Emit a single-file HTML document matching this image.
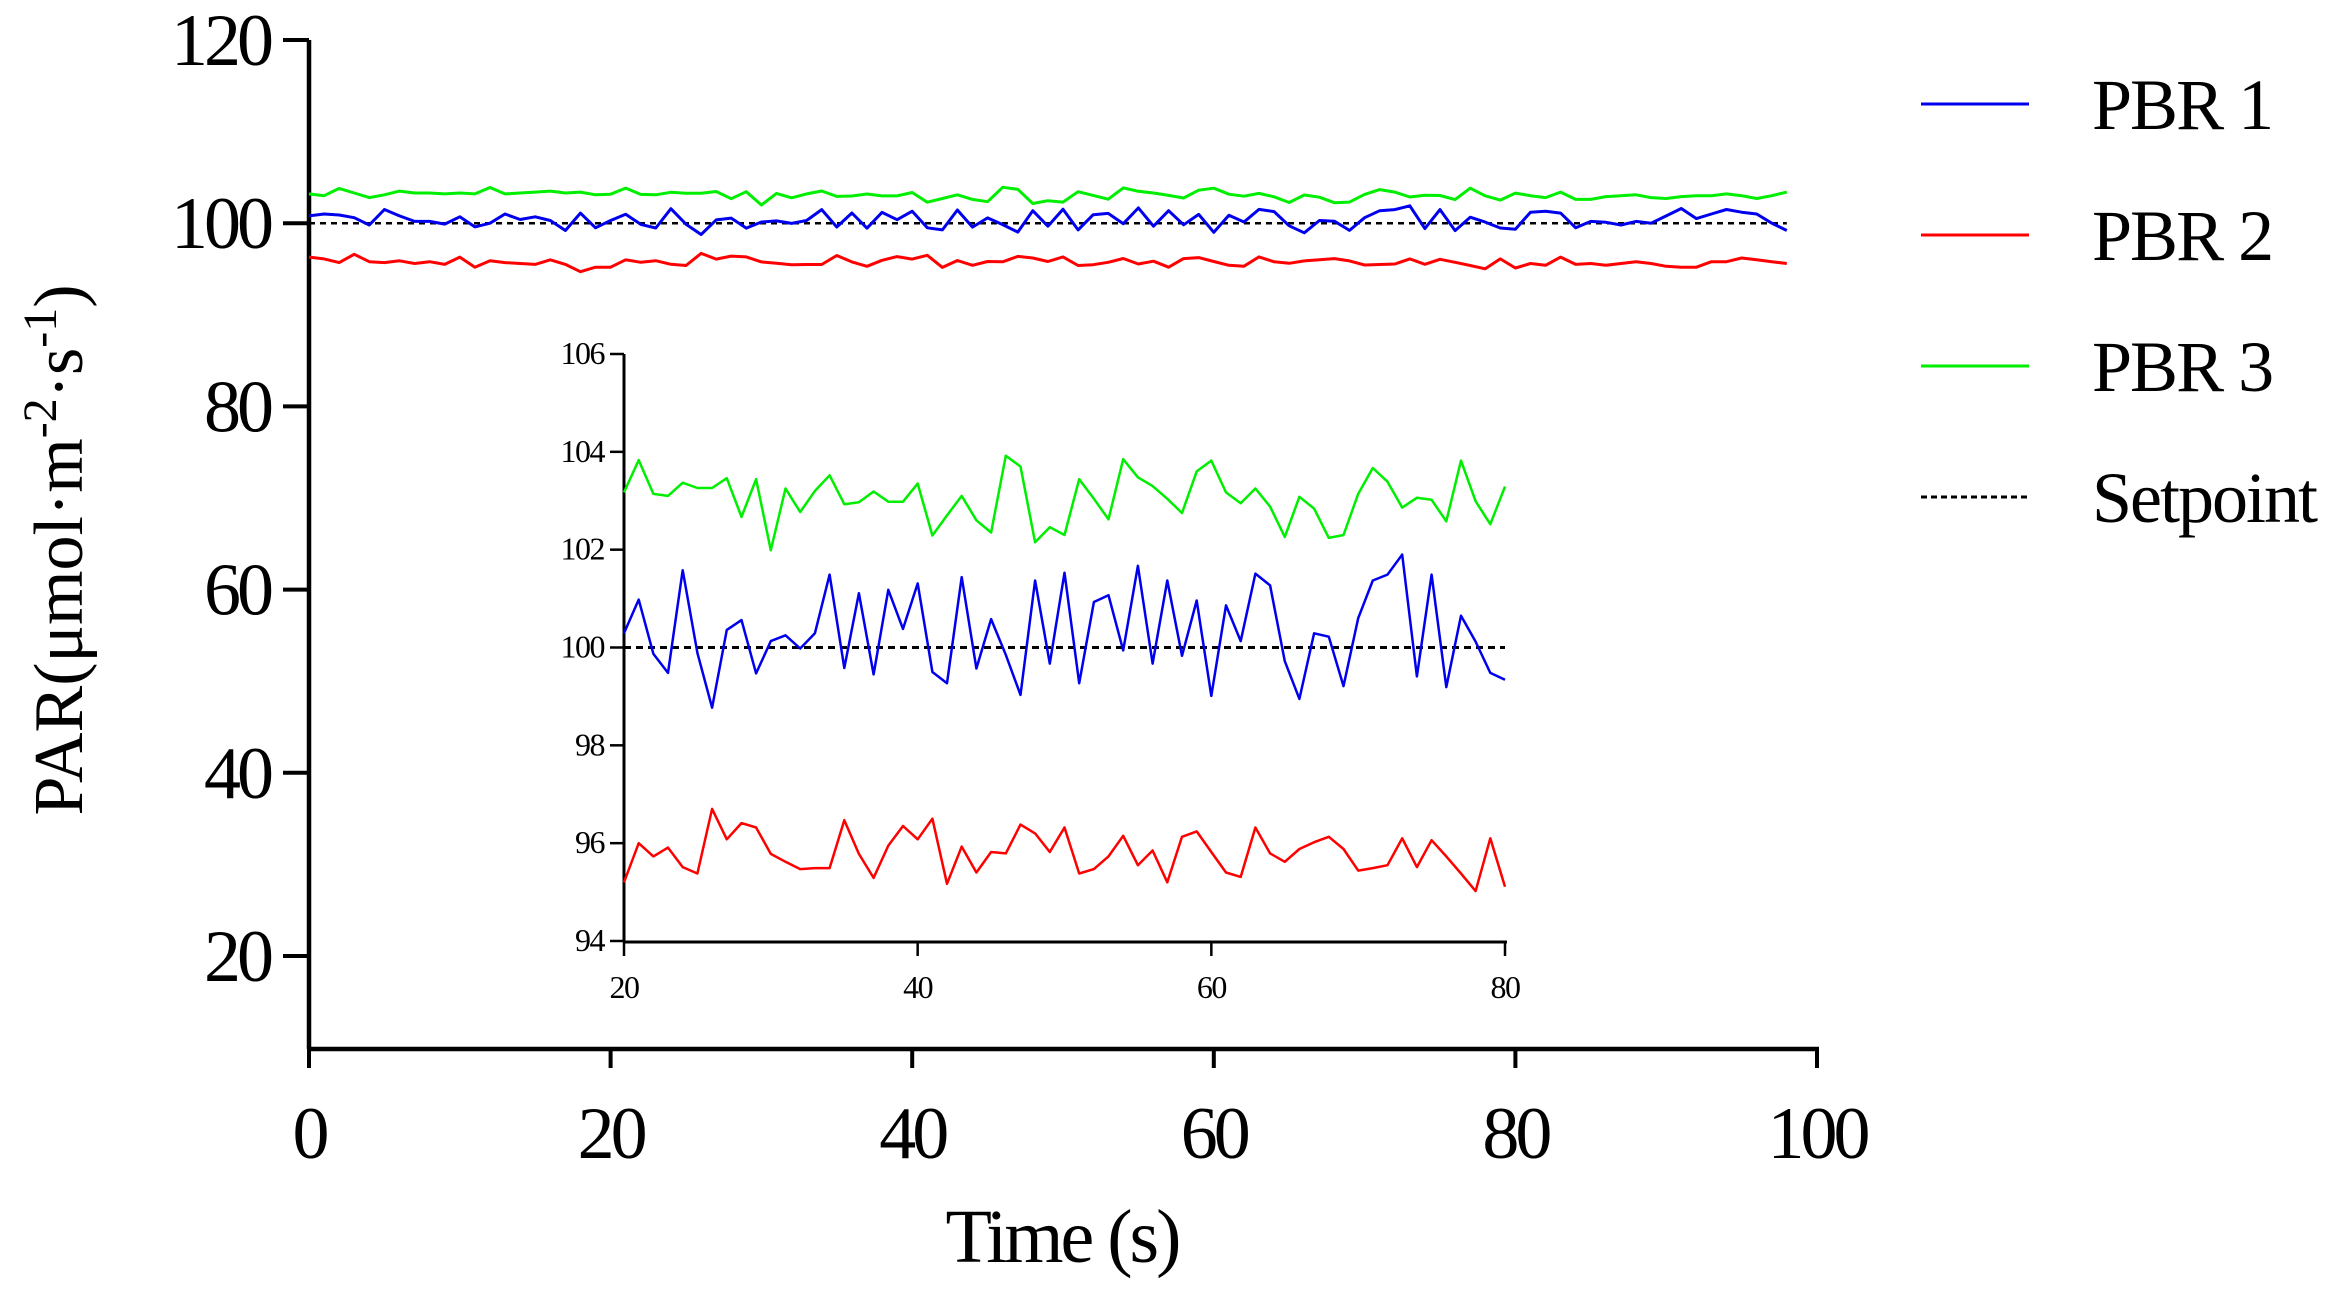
<!DOCTYPE html>
<html><head><meta charset="utf-8"><style>
html,body{margin:0;padding:0;background:#fff;}
svg{display:block;font-family:"Liberation Serif",serif;}
</style></head><body>
<svg id="chart" width="2338" height="1290" viewBox="0 0 2338 1290"></svg>
<script>
const insetX=[];for(let i=20;i<=80;i++)insetX.push(i);
const pbr3Inset=[103.17,103.83,103.14,103.1,103.37,103.26,103.26,103.46,102.67,103.44,101.99,103.25,102.77,103.2,103.52,102.93,102.97,103.19,102.98,102.98,103.35,102.29,102.7,103.1,102.6,102.35,103.92,103.7,102.15,102.46,102.3,103.44,103.04,102.62,103.85,103.48,103.3,103.04,102.75,103.6,103.82,103.17,102.95,103.25,102.88,102.26,103.08,102.84,102.24,102.3,103.14,103.67,103.39,102.86,103.06,103.02,102.58,103.82,102.99,102.52,103.29];
const pbr1Inset=[100.29,100.98,99.87,99.48,101.58,99.89,98.77,100.36,100.56,99.47,100.13,100.25,99.98,100.29,101.49,99.58,101.11,99.45,101.18,100.38,101.31,99.5,99.27,101.44,99.57,100.58,99.85,99.03,101.37,99.67,101.53,99.27,100.93,101.07,99.94,101.67,99.67,101.37,99.83,100.96,99.01,100.86,100.13,101.51,101.27,99.72,98.95,100.29,100.22,99.21,100.6,101.37,101.49,101.9,99.41,101.49,99.19,100.65,100.12,99.48,99.34];
const pbr2Inset=[95.2,96.0,95.73,95.91,95.51,95.38,96.7,96.08,96.41,96.32,95.78,95.62,95.47,95.49,95.49,96.47,95.78,95.29,95.95,96.35,96.08,96.5,95.17,95.93,95.4,95.82,95.79,96.38,96.2,95.82,96.32,95.38,95.47,95.73,96.15,95.55,95.85,95.2,96.13,96.24,95.82,95.4,95.31,96.32,95.79,95.62,95.88,96.02,96.13,95.88,95.44,95.49,95.55,96.1,95.51,96.06,95.73,95.38,95.02,96.1,95.11];
const pbr3Start=[103.2,103.0,103.8,103.3,102.8,103.1,103.5,103.3,103.3,103.2,103.3,103.2,103.9,103.2,103.3,103.4,103.5,103.3,103.4,103.1];
const pbr3End=[103.0,102.8,103.4,102.6,102.6,102.9,103.0,103.1,102.8,102.7,102.9,103.0,103.0,103.2,103.0,102.7,103.0,103.4];
const pbr1Start=[100.8,101.0,100.9,100.6,99.8,101.5,100.8,100.2,100.2,99.9,100.7,99.6,100.0,101.0,100.4,100.7,100.3,99.2,101.1,99.5];
const pbr1End=[101.2,101.3,101.1,99.5,100.2,100.1,99.8,100.2,100.0,100.8,101.6,100.5,101.0,101.5,101.2,101.0,100.0,99.2];
const pbr2Start=[96.3,96.1,95.7,96.6,95.8,95.7,95.9,95.6,95.8,95.5,96.3,95.2,95.9,95.7,95.6,95.5,96.0,95.5,94.7,95.2];
const pbr2End=[95.6,95.4,96.3,95.5,95.6,95.4,95.6,95.8,95.6,95.3,95.2,95.2,95.8,95.8,96.2,96.0,95.8,95.6];
const mainXTicks=[0,20,40,60,80,100];
const mainYTicks=[20,40,60,80,100,120];
const insetXTicks=[20,40,60,80];
const insetYTicks=[94,96,98,100,102,104,106];
const setpoint=100;

const NS="http://www.w3.org/2000/svg";
const svg=document.getElementById('chart');
function mk(tag,attrs,parent){const e=document.createElementNS(NS,tag);for(const k in attrs)e.setAttribute(k,attrs[k]);(parent||svg).appendChild(e);return e;}

// main scales
const mx=v=>309+(v-0)*(1817-309)/100;
const my=v=>956-(v-20)*(956-40)/100;
// inset scales
const ix=v=>624+(v-20)*(1505-624)/60;
const iy=v=>941-(v-94)*(941-354)/12;

function full(s,m,e){return s.concat(m,e);}
const mainX=[];for(let i=0;i<=98;i++)mainX.push(i);

// main axes
let e;
e=mk('line',{x1:309,y1:40,x2:309,y2:1049,stroke:'#000','stroke-width':4.5});

e=mk('line',{x1:307,y1:1049,x2:1819,y2:1049,stroke:'#000','stroke-width':4.5});

mainYTicks.forEach(t=>{
  e=mk('line',{x1:283,y1:my(t),x2:309,y2:my(t),stroke:'#000','stroke-width':4});
  
  e=mk('text',{x:270,y:my(t)+25,'text-anchor':'end','font-size':74,'letter-spacing':-4});
  e.textContent=t;
  
});
mainXTicks.forEach(t=>{
  e=mk('line',{x1:mx(t),y1:1049,x2:mx(t),y2:1068,stroke:'#000','stroke-width':4});
  
  e=mk('text',{x:mx(t),y:1158,'text-anchor':'middle','font-size':74,'letter-spacing':-4});
  e.textContent=t;
  
});
e=mk('text',{x:1062,y:1262,'text-anchor':'middle','font-size':76,'letter-spacing':-3});
e.textContent='Time (s)';

e=mk('text',{transform:'translate(82,550) rotate(-90)','text-anchor':'middle','font-size':70});
e.innerHTML='PAR(μmol·m<tspan baseline-shift="super" font-size="48">-2</tspan>·s<tspan baseline-shift="super" font-size="48">-1</tspan>)';


function line(xs,ys,fx,fy,color,w,name,dash){
  const d=xs.map((x,i)=>(i?'L':'M')+fx(x).toFixed(1)+' '+fy(ys[i]).toFixed(1)).join(' ');
  const p=mk('path',{d:d,fill:'none',stroke:color,'stroke-width':w,'stroke-linejoin':'round'});
  if(dash)p.setAttribute('stroke-dasharray',dash);
  
  
}
// main series
line([0,98],[setpoint,setpoint],mx,my,'#000',2.5,'main-setpoint-line','6 5');
line(mainX,full(pbr3Start,pbr3Inset,pbr3End),mx,my,'#00ee00',3,'main-pbr3-line');
line(mainX,full(pbr1Start,pbr1Inset,pbr1End),mx,my,'#0000ee',3,'main-pbr1-line');
line(mainX,full(pbr2Start,pbr2Inset,pbr2End),mx,my,'#ff0000',3,'main-pbr2-line');

// inset
e=mk('line',{x1:624,y1:354,x2:624,y2:942,stroke:'#000','stroke-width':3});

e=mk('line',{x1:623,y1:942,x2:1507,y2:942,stroke:'#000','stroke-width':3});

insetYTicks.forEach(t=>{
  e=mk('line',{x1:610,y1:iy(t),x2:624,y2:iy(t),stroke:'#000','stroke-width':2.5});
  
  e=mk('text',{x:604,y:iy(t)+10,'text-anchor':'end','font-size':32,'letter-spacing':-1.5});
  e.textContent=t;
  
});
insetXTicks.forEach(t=>{
  e=mk('line',{x1:ix(t),y1:942,x2:ix(t),y2:956,stroke:'#000','stroke-width':2.5});
  
  e=mk('text',{x:ix(t),y:998,'text-anchor':'middle','font-size':32,'letter-spacing':-1.5});
  e.textContent=t;
  
});
line([20,80],[setpoint,setpoint],ix,iy,'#000',3,'inset-setpoint-line','7 5');
line(insetX,pbr3Inset,ix,iy,'#00ee00',2.5,'inset-pbr3-line');
line(insetX,pbr1Inset,ix,iy,'#0000ee',2.5,'inset-pbr1-line');
line(insetX,pbr2Inset,ix,iy,'#ff0000',2.5,'inset-pbr2-line');

// legend
const legendNames=['PBR 1','PBR 2','PBR 3','Setpoint'];
const legendColors=['#0000ee','#ff0000','#00ee00','#000'];
legendNames.forEach((n,i)=>{
  const y=104+i*131;
  const g=mk('g',{});
  
  
  const l=mk('line',{x1:1921,y1:y,x2:2029,y2:y,stroke:legendColors[i],'stroke-width':3},g);
  if(n==='Setpoint')l.setAttribute('stroke-dasharray','6 4');
  const t=mk('text',{x:2092,y:y+25,'font-size':72,'letter-spacing':-2},g);
  t.textContent=n;
});
</script>
</body></html>
